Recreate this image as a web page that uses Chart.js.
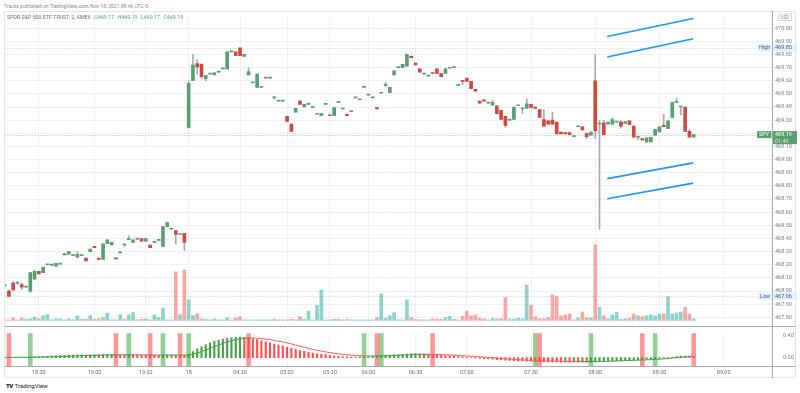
<!DOCTYPE html>
<html>
<head>
<meta charset="utf-8">
<script src="https://cdn.jsdelivr.net/npm/chart.js@4.4.0/dist/chart.umd.min.js"></script>
<style>
  html, body { margin: 0; padding: 0; background: #fff; }
  body { width: 800px; height: 393px; position: relative; overflow: hidden; font-family: Roboto, 'Open Sans', sans-serif; }
  #title { position: absolute; left: 4px; top: 3px; font-size: 5px; line-height: 6px; color: #8a8a8a; white-space: nowrap; }
  #legend { position: absolute; left: 7px; top: 14px; font-size: 5.3px; line-height: 6px; color: #707070; white-space: nowrap; }
  #legend .v { color: #5a9e72; margin-left: 2px; }
  #pricePane { position: absolute; left: 0; top: 11px; width: 800px; height: 316px; }
  #indPane { position: absolute; left: 0; top: 327px; width: 800px; height: 51px; }
  #brand { position: absolute; left: 6px; top: 382px; font-size: 6px; line-height: 8px; color: #131722; white-space: nowrap; }
  #brand .logo { font-weight: 900; letter-spacing: -0.6px; margin-right: 2px; }
</style>
</head>
<body>
<div id="pricePane"><canvas id="priceChart" width="800" height="316"></canvas></div>
<div id="indPane"><canvas id="indChart" width="800" height="51"></canvas></div>
<div id="title">Tracks published on TradingView.com, Nov 18, 2021 08:46 UTC-5</div>
<div id="legend">SPDR S&amp;P 500 ETF TRUST, 2, AMEX <span class="v">O469.17</span> <span class="v">H469.19</span> <span class="v">L469.17</span> <span class="v">C469.19</span></div>
<div id="brand"><span class="logo">TV</span>TradingView</div>
<script>
// 2-minute SPY bars, Nov 17 18:14 -> Nov 18 08:46 (bar index = position on the time axis)
const opens = [
  468.04, 468.00, 468.06, 468.06, 468.05, 468.03, 468.00, 468.09, 468.15, 468.14,
  468.20, 468.195, 468.19, 468.205, 468.275, 468.28, 468.27, 468.26, 468.27, 468.25,
  468.30, 468.34, 468.25, 468.24, 468.36, 468.35, 468.25, 468.29, 468.35, 468.39,
  468.37, 468.395, 468.40, 468.38, 468.35, 468.37, 468.385, 468.34, 468.49, 468.47,
  468.46, 468.43, 468.44, 469.245, 469.60, 469.73, 469.725, 469.615, 469.65, 469.645,
  469.665, 469.69, 469.69, 469.82, 469.82, 469.85, 469.785, 469.645, 469.585, 469.55,
  469.55, 469.62, 469.62, 469.47, 469.445, 469.445, 469.33, 469.27, 469.36, 469.445,
  469.40, 469.42, 469.395, 469.345, 469.335, 469.42, 469.335, 469.335, 469.435, 469.385,
  469.345, 469.365, 469.47, 469.455, 469.55, 469.49, 469.47, 469.395, 469.505, 469.565,
  469.51, 469.645, 469.70, 469.70, 469.71, 469.785, 469.735, 469.69, 469.65, 469.635,
  469.66, 469.69, 469.655, 469.655, 469.695, 469.70, 469.565, 469.60, 469.62, 469.595,
  469.535, 469.445, 469.455, 469.43, 469.415, 469.41, 469.375, 469.33, 469.30, 469.305,
  469.41, 469.385, 469.39, 469.42, 469.40, 469.38, 469.305, 469.295, 469.30, 469.285,
  469.21, 469.205, 469.205, 469.175, 469.25, 469.25, 469.20, 469.185, 469.60, 469.27,
  469.28, 469.27, 469.27, 469.285, 469.285, 469.275, 469.295, 469.255, 469.17, 469.16,
  469.135, 469.135, 469.185, 469.21, 469.26, 469.235, 469.32, 469.435, 469.40, 469.40, 469.215, 469.17
];
const highs = [
  468.05, 468.01, 468.07, 468.06, 468.06, 468.03, 468.14, 468.16, 468.15, 468.18,
  468.20, 468.205, 468.21, 468.205, 468.285, 468.30, 468.27, 468.30, 468.27, 468.25,
  468.32, 468.34, 468.25, 468.36, 468.39, 468.37, 468.25, 468.29, 468.36, 468.42,
  468.39, 468.40, 468.40, 468.40, 468.35, 468.37, 468.385, 468.49, 468.52, 468.47,
  468.46, 468.43, 468.44, 469.60, 469.80, 469.76, 469.73, 469.64, 469.65, 469.66,
  469.665, 469.69, 469.82, 469.82, 469.82, 469.85, 469.80, 469.70, 469.585, 469.65,
  469.55, 469.62, 469.62, 469.48, 469.445, 469.445, 469.33, 469.27, 469.39, 469.45,
  469.42, 469.43, 469.395, 469.345, 469.35, 469.42, 469.335, 469.395, 469.435, 469.385,
  469.345, 469.365, 469.47, 469.455, 469.55, 469.49, 469.47, 469.395, 469.505, 469.59,
  469.55, 469.675, 469.70, 469.725, 469.80, 469.79, 469.735, 469.69, 469.65, 469.635,
  469.66, 469.69, 469.655, 469.69, 469.695, 469.70, 469.565, 469.60, 469.62, 469.595,
  469.535, 469.445, 469.455, 469.43, 469.45, 469.41, 469.375, 469.33, 469.30, 469.40,
  469.41, 469.40, 469.46, 469.42, 469.40, 469.38, 469.38, 469.295, 469.36, 469.285,
  469.21, 469.205, 469.205, 469.175, 469.25, 469.25, 469.20, 469.21, 469.80, 469.30,
  469.30, 469.285, 469.32, 469.285, 469.30, 469.29, 469.295, 469.255, 469.18, 469.16,
  469.165, 469.17, 469.23, 469.25, 469.345, 469.295, 469.435, 469.47, 469.40, 469.40, 469.23, 469.19
];
const lows = [
  468.03, 467.96, 468.00, 468.05, 468.01, 468.03, 467.99, 468.09, 468.13, 468.14,
  468.20, 468.195, 468.19, 468.205, 468.275, 468.28, 468.27, 468.25, 468.27, 468.23,
  468.30, 468.33, 468.24, 468.24, 468.36, 468.35, 468.245, 468.29, 468.34, 468.39,
  468.37, 468.39, 468.38, 468.38, 468.33, 468.37, 468.385, 468.34, 468.49, 468.47,
  468.36, 468.43, 468.31, 469.24, 469.60, 469.65, 469.62, 469.60, 469.65, 469.645,
  469.665, 469.69, 469.69, 469.82, 469.79, 469.79, 469.785, 469.645, 469.585, 469.55,
  469.55, 469.62, 469.62, 469.46, 469.445, 469.445, 469.29, 469.215, 469.36, 469.42,
  469.40, 469.42, 469.395, 469.345, 469.335, 469.42, 469.335, 469.335, 469.435, 469.385,
  469.335, 469.365, 469.47, 469.455, 469.55, 469.49, 469.47, 469.385, 469.505, 469.555,
  469.51, 469.645, 469.70, 469.70, 469.71, 469.775, 469.72, 469.665, 469.65, 469.635,
  469.655, 469.655, 469.63, 469.655, 469.695, 469.70, 469.565, 469.57, 469.595, 469.54,
  469.52, 469.43, 469.445, 469.43, 469.415, 469.35, 469.305, 469.245, 469.30, 469.305,
  469.41, 469.35, 469.39, 469.395, 469.39, 469.32, 469.255, 469.27, 469.27, 469.195,
  469.195, 469.195, 469.19, 469.175, 469.25, 469.225, 469.16, 469.185, 469.16, 468.47,
  469.19, 469.27, 469.27, 469.285, 469.24, 469.275, 469.265, 469.17, 469.15, 469.15,
  469.13, 469.135, 469.185, 469.21, 469.25, 469.235, 469.32, 469.435, 469.34, 469.215, 469.17, 469.17
];
const closes = [
  468.04, 467.96, 468.01, 468.06, 468.03, 468.03, 468.14, 468.15, 468.13, 468.18,
  468.20, 468.205, 468.21, 468.205, 468.285, 468.30, 468.27, 468.28, 468.27, 468.23,
  468.32, 468.33, 468.24, 468.36, 468.39, 468.37, 468.245, 468.29, 468.35, 468.40,
  468.39, 468.395, 468.38, 468.40, 468.33, 468.37, 468.385, 468.49, 468.52, 468.47,
  468.43, 468.43, 468.37, 469.58, 469.72, 469.705, 469.63, 469.64, 469.65, 469.66,
  469.665, 469.69, 469.82, 469.82, 469.79, 469.79, 469.80, 469.67, 469.585, 469.65,
  469.55, 469.62, 469.62, 469.47, 469.445, 469.445, 469.29, 469.215, 469.39, 469.42,
  469.42, 469.42, 469.395, 469.345, 469.35, 469.42, 469.335, 469.395, 469.435, 469.385,
  469.335, 469.365, 469.47, 469.455, 469.55, 469.49, 469.47, 469.385, 469.505, 469.565,
  469.55, 469.675, 469.70, 469.725, 469.80, 469.775, 469.72, 469.665, 469.65, 469.635,
  469.655, 469.655, 469.63, 469.69, 469.695, 469.70, 469.565, 469.595, 469.595, 469.54,
  469.52, 469.43, 469.445, 469.43, 469.435, 469.35, 469.305, 469.26, 469.30, 469.40,
  469.41, 469.385, 469.425, 469.395, 469.39, 469.32, 469.255, 469.27, 469.27, 469.195,
  469.195, 469.195, 469.19, 469.175, 469.25, 469.225, 469.175, 469.21, 469.22, 469.275,
  469.19, 469.285, 469.305, 469.285, 469.255, 469.29, 469.265, 469.17, 469.17, 469.15,
  469.165, 469.17, 469.23, 469.25, 469.25, 469.295, 469.435, 469.435, 469.40, 469.215, 469.17, 469.19
];
// volume, thousands of shares
const volumes = [
  6, 6, 18, 6, 16, 10, 12, 22, 12, 30,
  38, 6, 12, 12, 6, 12, 6, 30, 10, 10,
  32, 8, 12, 20, 48, 6, 6, 36, 8, 36,
  50, 6, 8, 12, 6, 36, 20, 78, 6, 6,
  306, 36, 318, 130, 32, 44, 12, 9, 6, 12,
  6, 6, 18, 6, 16, 24, 6, 6, 6, 6,
  6, 6, 6, 10, 6, 6, 6, 8, 6, 24,
  8, 60, 6, 96, 192, 6, 6, 8, 8, 6,
  8, 6, 6, 6, 6, 6, 6, 20, 168, 16,
  30, 50, 6, 6, 130, 20, 8, 6, 6, 6,
  12, 10, 8, 20, 28, 8, 6, 28, 60, 30,
  36, 16, 12, 6, 16, 10, 12, 144, 10, 10,
  16, 12, 222, 96, 24, 12, 12, 20, 162, 150,
  30, 36, 42, 6, 18, 54, 18, 18, 474, 84,
  30, 12, 36, 54, 8, 12, 16, 42, 30, 24,
  30, 36, 30, 42, 42, 150, 42, 48, 54, 84, 42, 12
];
// lower pane oscillator: histogram and its signal line
const histogram = [
  0.000, 0.000, 0.002, 0.004, 0.005, 0.006, 0.010, 0.015, 0.016, 0.020,
  0.025, 0.030, 0.031, 0.035, 0.040, 0.045, 0.046, 0.050, 0.051, 0.048,
  0.050, 0.052, 0.050, 0.055, 0.058, 0.059, 0.055, 0.053, 0.050, 0.051,
  0.050, 0.048, 0.047, 0.046, 0.045, 0.044, 0.043, 0.045, 0.047, 0.046,
  0.046, 0.045, 0.044, 0.060, 0.110, 0.160, 0.200, 0.240, 0.270, 0.300,
  0.320, 0.340, 0.355, 0.365, 0.372, 0.375, 0.370, 0.360, 0.345, 0.330,
  0.310, 0.290, 0.270, 0.250, 0.230, 0.210, 0.190, 0.170, 0.150, 0.130,
  0.115, 0.100, 0.085, 0.070, 0.060, 0.050, 0.040, 0.030, 0.025, 0.020,
  0.015, 0.010, 0.008, 0.010, 0.015, 0.020, 0.025, 0.030, 0.035, 0.040,
  0.045, 0.050, 0.055, 0.060, 0.065, 0.070, 0.072, 0.068, 0.064, 0.060,
  0.055, 0.050, 0.044, 0.038, 0.032, 0.026, 0.020, 0.013, 0.006, 0.000,
  -0.006, -0.012, -0.018, -0.024, -0.030, -0.036, -0.042, -0.048, -0.053, -0.057,
  -0.060, -0.063, -0.066, -0.069, -0.072, -0.075, -0.077, -0.079, -0.080, -0.081,
  -0.082, -0.082, -0.083, -0.083, -0.084, -0.084, -0.085, -0.082, -0.078, -0.074,
  -0.070, -0.066, -0.062, -0.058, -0.054, -0.050, -0.046, -0.042, -0.038, -0.034,
  -0.030, -0.025, -0.020, -0.015, -0.010, -0.004, 0.006, 0.018, 0.026, 0.024, 0.022, 0.020
];
const signal = [
  0.005, 0.005, 0.005, 0.005, 0.005, 0.005, 0.006, 0.008, 0.010, 0.012,
  0.014, 0.016, 0.018, 0.020, 0.023, 0.026, 0.029, 0.032, 0.035, 0.037,
  0.039, 0.041, 0.043, 0.045, 0.047, 0.049, 0.050, 0.051, 0.051, 0.051,
  0.051, 0.050, 0.050, 0.049, 0.048, 0.048, 0.047, 0.047, 0.047, 0.047,
  0.047, 0.046, 0.046, 0.050, 0.065, 0.085, 0.110, 0.140, 0.170, 0.200,
  0.230, 0.260, 0.290, 0.310, 0.330, 0.345, 0.355, 0.360, 0.360, 0.355,
  0.350, 0.340, 0.330, 0.315, 0.300, 0.285, 0.270, 0.250, 0.230, 0.210,
  0.190, 0.170, 0.150, 0.135, 0.120, 0.105, 0.090, 0.080, 0.070, 0.060,
  0.052, 0.045, 0.040, 0.035, 0.032, 0.030, 0.030, 0.030, 0.031, 0.033,
  0.035, 0.038, 0.041, 0.045, 0.050, 0.055, 0.058, 0.060, 0.061, 0.061,
  0.060, 0.058, 0.055, 0.052, 0.048, 0.044, 0.040, 0.035, 0.030, 0.025,
  0.020, 0.014, 0.008, 0.002, -0.004, -0.010, -0.016, -0.022, -0.028, -0.033,
  -0.038, -0.042, -0.046, -0.050, -0.053, -0.056, -0.059, -0.061, -0.063, -0.065,
  -0.067, -0.068, -0.069, -0.070, -0.071, -0.072, -0.072, -0.072, -0.071, -0.070,
  -0.069, -0.067, -0.065, -0.062, -0.059, -0.056, -0.053, -0.050, -0.047, -0.044,
  -0.041, -0.037, -0.033, -0.029, -0.024, -0.018, -0.010, 0.000, 0.010, 0.016, 0.019, 0.017
];
// bars flagged by the indicator (full-height columns)
const signalUp = [6, 29, 37, 43, 84, 88, 124, 137, 152];
const signalDown = [1, 26, 34, 41, 57, 87, 100, 125, 149, 161];

// time axis
const tickLabels = ['18:30', '19:00', '19:32', '18', '04:30', '05:02', '05:30', '06:00', '06:30', '07:00', '07:30', '08:00', '08:30', '09:00'];
const tickBars = [8, 21, 33, 43, 55, 66, 76, 85, 96, 108, 123, 138, 153, 168];
const priceTicks = [467.8, 467.9, 468.0, 468.1, 468.2, 468.3, 468.4, 468.5, 468.6, 468.7, 468.8, 468.9,
  469.0, 469.1, 469.2, 469.3, 469.4, 469.5, 469.6, 469.7, 469.8, 469.9, 470.0];
const indTicks = [0, 0.4];

// drawn trend lines: [startBar, startPrice, endBar, endPrice]
const trendLines = [
  [140.8, 469.937, 160.9, 470.073],
  [140.8, 469.780, 160.9, 469.920],
  [140.8, 468.855, 160.9, 468.975],
  [140.8, 468.702, 160.9, 468.821]
];
const highLevel = 469.85, lowLevel = 467.96, lastPrice = 469.19, lastTimeLeft = '01:49';

// ---- styling
const UP = '#5a9e72', DOWN = '#cc4a3f';
const VOL_UP = 'rgba(38,166,154,0.5)', VOL_DOWN = 'rgba(239,83,80,0.5)';
const GRID = '#f0f1f3';
const X_MIN = -0.03, X_MAX = 179.3;
Chart.defaults.font.family = 'Roboto, "Open Sans", sans-serif';
Chart.defaults.animation = false;

const isUp = i => closes[i] >= opens[i];

function xScaleOpts(showLabels) {
  return {
    type: 'linear', min: X_MIN, max: X_MAX, offset: false,
    grid: { color: GRID, drawTicks: false, offset: false },
    border: { display: false },
    afterBuildTicks: s => { s.ticks = tickBars.map(v => ({ value: v })); },
    afterFit: s => { s.height = showLabels ? 12 : 0; },
    ticks: {
      display: showLabels, autoSkip: false, maxRotation: 0, padding: 3,
      color: '#6a6d78', font: { size: 5.5 },
      callback: v => tickLabels[tickBars.indexOf(v)]
    }
  };
}

function tag(ctx, x, y, w, h, fill, lines, color) {
  ctx.fillStyle = fill;
  ctx.fillRect(x, y, w, h);
  ctx.textBaseline = 'middle';
  ctx.textAlign = 'left';
  lines.forEach((l, i) => {
    ctx.fillStyle = l.color || color;
    ctx.font = '5.5px Roboto, sans-serif';
    ctx.fillText(l.text, x + 2, y + 3.6 + i * 6.5);
  });
}

const priceDecor = {
  id: 'priceDecor',
  beforeDatasetsDraw(chart) {
    const { ctx, chartArea: a, scales: { y } } = chart;
    ctx.save();
    ctx.lineWidth = 1;
    ctx.setLineDash([1, 2]);
    [[highLevel, '#c3c6ce'], [lastPrice, '#8fc2a0'], [lowLevel, '#c3c6ce']].forEach(([v, c]) => {
      const py = Math.round(y.getPixelForValue(v)) + 0.5;
      ctx.strokeStyle = c;
      ctx.beginPath(); ctx.moveTo(a.left, py); ctx.lineTo(a.right, py); ctx.stroke();
    });
    ctx.restore();
  },
  afterDraw(chart) {
    const { ctx, chartArea: a, scales: { y }, width, height } = chart;
    ctx.save();
    ctx.lineWidth = 1;
    ctx.strokeStyle = '#e3e5ea';
    ctx.beginPath();
    ctx.moveTo(a.left, 0.5); ctx.lineTo(795.5, 0.5);
    ctx.moveTo(a.left, 0); ctx.lineTo(a.left, height);
    ctx.moveTo(795.5, 0); ctx.lineTo(795.5, height);
    ctx.stroke();
    ctx.strokeStyle = '#a8abb3';
    ctx.beginPath();
    ctx.moveTo(a.right + 0.5, 0); ctx.lineTo(a.right + 0.5, height);
    ctx.moveTo(a.left, height - 0.5); ctx.lineTo(795.5, height - 0.5);
    ctx.stroke();

    const r = a.right + 1;
    // currency badge
    ctx.fillStyle = '#fff';
    ctx.fillRect(r + 5, 2.5, 14, 7);
    ctx.strokeStyle = '#d5d7dc';
    ctx.strokeRect(r + 5.5, 3, 13, 6.5);
    ctx.fillStyle = '#888';
    ctx.font = '4.5px Roboto, sans-serif';
    ctx.textBaseline = 'middle';
    ctx.fillText('USD', r + 7.5, 6.4);

    const hy = y.getPixelForValue(highLevel);
    tag(ctx, a.right - 15, hy - 3.5, 14.5, 7, '#e3effd', [{ text: 'High' }], '#3d5f8a');
    tag(ctx, r, hy - 3.5, 24, 7, '#e3effd', [{ text: highLevel.toFixed(2) }], '#3d5f8a');
    const ly = y.getPixelForValue(lowLevel);
    tag(ctx, a.right - 14, ly - 3.5, 13.5, 7, '#e3effd', [{ text: 'Low' }], '#3d5f8a');
    tag(ctx, r, ly - 3.5, 24, 7, '#e3effd', [{ text: lowLevel.toFixed(2) }], '#3d5f8a');
    const py = y.getPixelForValue(lastPrice);
    tag(ctx, a.right - 15, py - 3.5, 14.5, 7, UP, [{ text: 'SPY' }], '#fff');
    tag(ctx, r, py - 3.5, 24, 13, UP, [{ text: lastPrice.toFixed(2) }, { text: lastTimeLeft, color: '#d4eadb' }], '#fff');
    ctx.restore();
  }
};

new Chart(document.getElementById('priceChart'), {
  type: 'bar',
  data: {
    datasets: [
      {
        label: 'Volume', yAxisID: 'yVol', grouped: false, order: 5, barThickness: 3,
        data: volumes.map((v, i) => ({ x: i, y: [0, v] })),
        backgroundColor: volumes.map((v, i) => isUp(i) ? VOL_UP : VOL_DOWN)
      },
      {
        label: 'Wick', yAxisID: 'y', grouped: false, order: 4, barThickness: 1,
        data: highs.map((h, i) => ({ x: i, y: [lows[i], h] })),
        backgroundColor: '#a9abb0'
      },
      {
        label: 'Body', yAxisID: 'y', grouped: false, order: 3, barThickness: 3, minBarLength: 1,
        data: opens.map((o, i) => ({ x: i, y: [o, closes[i]] })),
        backgroundColor: opens.map((o, i) => isUp(i) ? UP : DOWN)
      },
      ...trendLines.map((t, k) => ({
        type: 'line', label: 'Trend ' + (k + 1), yAxisID: 'y', order: 1,
        data: [{ x: t[0], y: t[1] }, { x: t[2], y: t[3] }],
        borderColor: '#2196f3', borderWidth: 1.6, pointRadius: 0, clip: false
      }))
    ]
  },
  options: {
    responsive: false, devicePixelRatio: 1,
    layout: { padding: { left: 4.5, right: 0, top: 0, bottom: 0 } },
    plugins: { legend: { display: false }, tooltip: { enabled: false } },
    scales: {
      x: xScaleOpts(false),
      y: {
        position: 'right', min: 467.7744, max: 470.0826,
        grid: { color: GRID, drawTicks: false },
        border: { display: false },
        afterBuildTicks: s => { s.ticks = priceTicks.map(v => ({ value: v })); },
        afterFit: s => { s.width = 28; },
        ticks: { padding: 3, color: '#7b7e86', font: { size: 5.5 }, callback: v => v.toFixed(2) }
      },
      yVol: { display: false, min: 0, max: 1896 }
    }
  },
  plugins: [priceDecor]
});

const indDecor = {
  id: 'indDecor',
  afterDraw(chart) {
    const { ctx, chartArea: a, height } = chart;
    ctx.save();
    ctx.lineWidth = 1;
    ctx.strokeStyle = '#e3e5ea';
    ctx.beginPath();
    ctx.moveTo(a.left, 0); ctx.lineTo(a.left, height);
    ctx.moveTo(795.5, 0); ctx.lineTo(795.5, height);
    ctx.moveTo(a.left, height - 0.5); ctx.lineTo(795.5, height - 0.5);
    ctx.stroke();
    ctx.strokeStyle = '#a8abb3';
    ctx.beginPath();
    ctx.moveTo(a.right + 0.5, 0); ctx.lineTo(a.right + 0.5, height);
    ctx.moveTo(a.left, a.bottom + 0.5); ctx.lineTo(795.5, a.bottom + 0.5);
    ctx.stroke();
    ctx.restore();
  }
};

const IND_MIN = -0.154, IND_MAX = 0.446;
new Chart(document.getElementById('indChart'), {
  type: 'bar',
  data: {
    datasets: [
      {
        label: 'Up signal', grouped: false, order: 6, barThickness: 4,
        data: signalUp.map(i => ({ x: i, y: [IND_MIN, IND_MAX] })),
        backgroundColor: 'rgba(76,175,80,0.6)'
      },
      {
        label: 'Down signal', grouped: false, order: 5, barThickness: 4,
        data: signalDown.map(i => ({ x: i, y: [IND_MIN, IND_MAX] })),
        backgroundColor: 'rgba(255,82,82,0.6)'
      },
      {
        label: 'Histogram', grouped: false, order: 3, barThickness: 1.4,
        data: histogram.map((v, i) => ({ x: i, y: v })),
        backgroundColor: histogram.map((v, i) => (i === 0 || v >= histogram[i - 1]) ? '#43a047' : '#ff4d4d')
      },
      {
        type: 'line', label: 'Signal', order: 1,
        data: signal.map((v, i) => ({ x: i, y: v })),
        borderWidth: 1, pointRadius: 0, borderColor: '#43a047',
        segment: { borderColor: c => c.p1.parsed.y >= c.p0.parsed.y ? '#43a047' : '#ff5a5a' }
      }
    ]
  },
  options: {
    responsive: false, devicePixelRatio: 1,
    layout: { padding: { left: 4.5, right: 0, top: 0, bottom: 0 } },
    plugins: { legend: { display: false }, tooltip: { enabled: false } },
    scales: {
      x: xScaleOpts(true),
      y: {
        position: 'right', min: IND_MIN, max: IND_MAX,
        grid: { display: false },
        border: { display: false },
        afterBuildTicks: s => { s.ticks = indTicks.map(v => ({ value: v })); },
        afterFit: s => { s.width = 28; },
        ticks: { padding: 3, color: '#7b7e86', font: { size: 5.5 }, callback: v => v.toFixed(2) }
      }
    }
  },
  plugins: [indDecor]
});
</script>
</body>
</html>
